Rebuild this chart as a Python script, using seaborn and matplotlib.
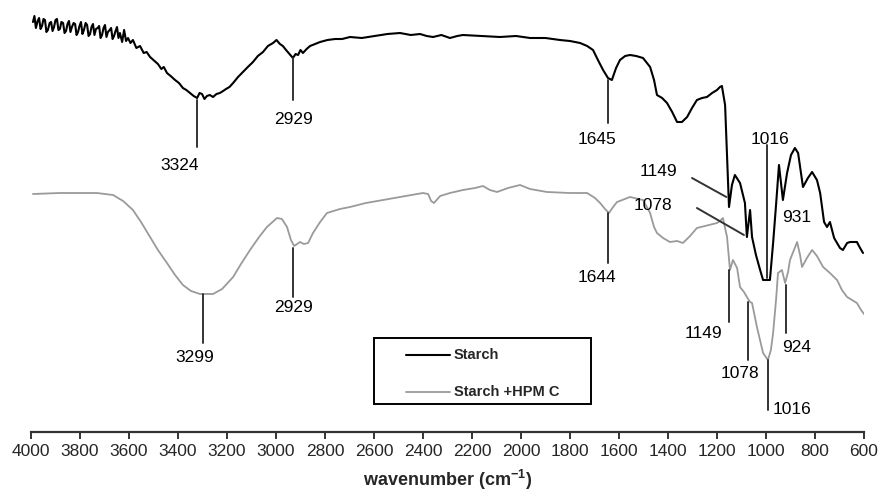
import numpy as np
import pandas as pd
import matplotlib
matplotlib.use("Agg")
import matplotlib.pyplot as plt
from matplotlib.lines import Line2D
from matplotlib.patches import Rectangle
import seaborn as sns

# ---------------- data (wavenumber cm-1, transmittance a.u.) ----------------
starch_wn = [3992, 3986, 3980, 3973, 3967, 3961, 3955, 3949, 3943, 3937, 3931, 3924,
             3918, 3912, 3906, 3900, 3894, 3888, 3882, 3876, 3869, 3863, 3857, 3851,
             3845, 3839, 3833, 3826, 3820, 3814, 3808, 3802, 3796, 3790, 3784, 3777,
             3771, 3765, 3759, 3753, 3747, 3741, 3735, 3728, 3722, 3716, 3710, 3704,
             3698, 3692, 3686, 3679, 3673, 3667, 3661, 3655, 3649, 3643, 3637, 3628,
             3620, 3612, 3604, 3594, 3584, 3570, 3555, 3540, 3528, 3514, 3500, 3482,
             3468, 3458, 3445, 3430, 3412, 3396, 3380, 3366, 3351, 3336, 3322, 3312,
             3302, 3292, 3282, 3270, 3257, 3243, 3229, 3216, 3204, 3190, 3175, 3155,
             3135, 3115, 3094, 3074, 3053, 3033, 3012, 2998, 2984, 2972, 2959, 2945,
             2931, 2920, 2910, 2900, 2890, 2875, 2861, 2840, 2820, 2790, 2759, 2730,
             2698, 2650, 2596, 2545, 2494, 2450, 2412, 2385, 2359, 2325, 2290, 2260,
             2237, 2160, 2086, 2020, 1963, 1900, 1841, 1800, 1759, 1730, 1706, 1686,
             1665, 1645, 1629, 1612, 1596, 1575, 1555, 1530, 1502, 1473, 1457, 1445,
             1424, 1404, 1383, 1363, 1343, 1322, 1302, 1282, 1261, 1241, 1220, 1200,
             1188, 1180, 1167, 1159, 1151, 1139, 1127, 1106, 1086, 1078, 1065, 1057,
             1041, 1024, 1012, 984, 971, 959, 947, 931, 914, 898, 882, 869, 849, 829,
             812, 792, 779, 763, 751, 739, 722, 710, 698, 686, 669, 657, 629, 616, 604]
starch_t = [410, 416, 404, 411, 414, 403, 406, 413, 412, 400, 402, 409,
            410, 401, 405, 412, 413, 402, 403, 410, 409, 399, 401, 408,
            411, 400, 405, 409, 408, 397, 400, 406, 410, 398, 402, 409,
            407, 396, 398, 405, 408, 397, 403, 404, 406, 394, 397, 404,
            407, 395, 400, 402, 404, 393, 396, 401, 405, 394, 399, 390,
            402, 391, 394, 389, 392, 384, 386, 379, 380, 375, 372, 368,
            363, 365, 359, 356, 352, 349, 344, 342, 339, 336, 334, 339,
            338, 333, 336, 337, 335, 338, 339, 341, 343, 345, 349, 355,
            360, 365, 370, 376, 380, 386, 389, 392, 388, 386, 382, 378,
            374, 378, 377, 382, 379, 383, 386, 388, 390, 392, 393, 393,
            395, 394, 396, 398, 399, 397, 398, 396, 395, 397, 394, 396,
            397, 396, 395, 396, 394, 394, 392, 391, 389, 386, 382, 372,
            362, 354, 352, 364, 372, 376, 377, 376, 374, 365, 352, 337,
            334, 329, 320, 310, 310, 315, 324, 332, 334, 335, 339, 342,
            345, 346, 327, 277, 225, 247, 257, 249, 229, 195, 222, 195,
            177, 162, 152, 152, 189, 227, 267, 232, 259, 277, 284, 279, 245, 254,
            260, 252, 239, 210, 205, 210, 194, 189, 184, 182, 189, 190, 190, 184, 179]

hpmc_wn = [3992, 3882, 3731, 3665, 3624, 3584, 3551, 3514, 3482, 3445, 3412, 3380,
           3347, 3310, 3257, 3220, 3175, 3143, 3106, 3069, 3037, 2996, 2976, 2955,
           2939, 2926, 2902, 2886, 2869, 2849, 2820, 2792, 2739, 2698, 2633, 2563,
           2494, 2400, 2379, 2367, 2355, 2330, 2290, 2237, 2188, 2155, 2127, 2098,
           2053, 2004, 1963, 1894, 1800, 1730, 1698, 1677, 1657, 1641, 1624, 1608,
           1555, 1502, 1473, 1457, 1445, 1420, 1392, 1363, 1339, 1310, 1282, 1249,
           1200, 1188, 1176, 1159, 1147, 1135, 1118, 1106, 1090, 1078, 1065, 1057,
           1037, 1012, 992, 980, 971, 959, 951, 935, 922, 910, 902, 873, 861, 853,
           833, 812, 792, 767, 739, 710, 690, 669, 649, 629, 612, 600]
hpmc_t = [238, 239, 239, 237, 231, 222, 210, 195, 182, 169, 157, 147,
          141, 138, 138, 143, 155, 168, 182, 195, 205, 214, 213, 205,
          192, 186, 190, 188, 189, 199, 210, 219, 223, 225, 229, 232,
          235, 239, 238, 231, 229, 236, 239, 242, 244, 246, 242, 240,
          244, 247, 243, 240, 239, 239, 234, 229, 223, 219, 225, 230,
          235, 232, 219, 205, 199, 194, 190, 191, 189, 196, 204, 206,
          209, 211, 214, 195, 162, 172, 164, 145, 140, 135, 130, 129,
          105, 79, 72, 82, 99, 132, 159, 162, 149, 160, 172, 190, 177, 165,
          174, 182, 176, 165, 159, 152, 142, 135, 132, 129, 122, 118]

series_names = ["Starch", "Starch +HPM C"]
tick_values = list(range(4000, 599, -200))

# peak annotations: label, line x, line top, line bottom, text x, text y
peaks_starch = [
    ("3324", 3324, 332, 285, 3392, 267),
    ("2929", 2929, 374, 332, 2929, 312),
    ("1645", 1645, 352, 309, 1690, 292),
    ("1016", 996, 287, 154, 984, 292),
]
peaks_hpmc = [
    ("3299", 3299, 138, 89, 3331, 75),
    ("2929", 2929, 184, 135, 2929, 125),
    ("1644", 1644, 219, 169, 1690, 155),
    ("1149", 1149, 162, 110, 1257, 99),
    ("1078", 1075, 130, 72, 1106, 59),
    ("1016", 992, 72, 22, 894, 22),
    ("924", 920, 147, 99, 873, 85),
]
# slanted leaders: label, (x0, y0) near text, (x1, y1) at peak, text x, text y
leaders = [
    ("1149", 1302, 254, 1162, 235, 1441, 260),
    ("1078", 1282, 224, 1090, 197, 1461, 226),
]
free_labels = [("931", 873, 214)]

# ---------------- style ----------------
sns.set_theme(style="white")
plt.rcParams["font.family"] = ["Liberation Sans", "DejaVu Sans"]
plt.rcParams["mathtext.fontset"] = "custom"
plt.rcParams["mathtext.rm"] = "Liberation Sans"
plt.rcParams["mathtext.bf"] = "Liberation Sans:bold"

fig = plt.figure(figsize=(8.81, 4.95), dpi=100)
ax = fig.add_axes([31 / 881, 1 - 432 / 495, (864 - 31) / 881, 432 / 495])

df_s = pd.DataFrame({"wn": starch_wn, "t": starch_t})
df_h = pd.DataFrame({"wn": hpmc_wn, "t": hpmc_t})
sns.lineplot(data=df_s, x="wn", y="t", ax=ax, color="black", lw=1.5,
             sort=False, estimator=None)
sns.lineplot(data=df_h, x="wn", y="t", ax=ax, color="#9a9a9a", lw=1.3,
             sort=False, estimator=None)

ann_kw = dict(fontsize=12.5, color="black", va="center", ha="center")
for lab, lx, y0, y1, tx, ty in peaks_starch + peaks_hpmc:
    ax.plot([lx, lx], [y0, y1], color="#333333", lw=1.4)
    ax.text(tx, ty, lab, **ann_kw)
for lab, x0, y0, x1, y1, tx, ty in leaders:
    ax.plot([x0, x1], [y0, y1], color="#333333", lw=1.4)
    ax.text(tx, ty, lab, **ann_kw)
for lab, tx, ty in free_labels:
    ax.text(tx, ty, lab, **ann_kw)

ax.set_xlim(4000, 600)
ax.set_ylim(0, 432)
ax.set_xticks(tick_values)
ax.set_xticklabels([str(v) for v in tick_values], fontsize=12.5)
ax.set_yticks([])
ax.set_ylabel("")
ax.set_xlabel("wavenumber (cm$^{\\mathbf{-1}}$)", fontsize=13, fontweight="bold",
              labelpad=6)
for s in ["top", "right", "left"]:
    ax.spines[s].set_visible(False)
ax.spines["bottom"].set_color("#333333")
ax.spines["bottom"].set_linewidth(1.6)
ax.tick_params(axis="x", direction="out", length=5, width=1.4, color="#333333",
               pad=4, bottom=True)
ax.patch.set_alpha(0)

# ---------------- legend (box drawn in figure space) ----------------
W, H = 881, 495
fig.patches.append(Rectangle((374 / W, 1 - 404 / H), (591 - 374) / W, (404 - 338) / H,
                             transform=fig.transFigure, fill=False,
                             edgecolor="black", lw=1.4))
for (yy, col, lw_), name in zip([(355, "black", 1.5), (392, "#9a9a9a", 1.3)], series_names):
    fig.lines.append(Line2D([406 / W, 450 / W], [1 - yy / H] * 2,
                            transform=fig.transFigure, color=col, lw=lw_))
    fig.text(454 / W, 1 - yy / H, name, fontsize=10.5, va="center", ha="left",
             fontweight="bold")

fig.savefig("out.png", dpi=100)
